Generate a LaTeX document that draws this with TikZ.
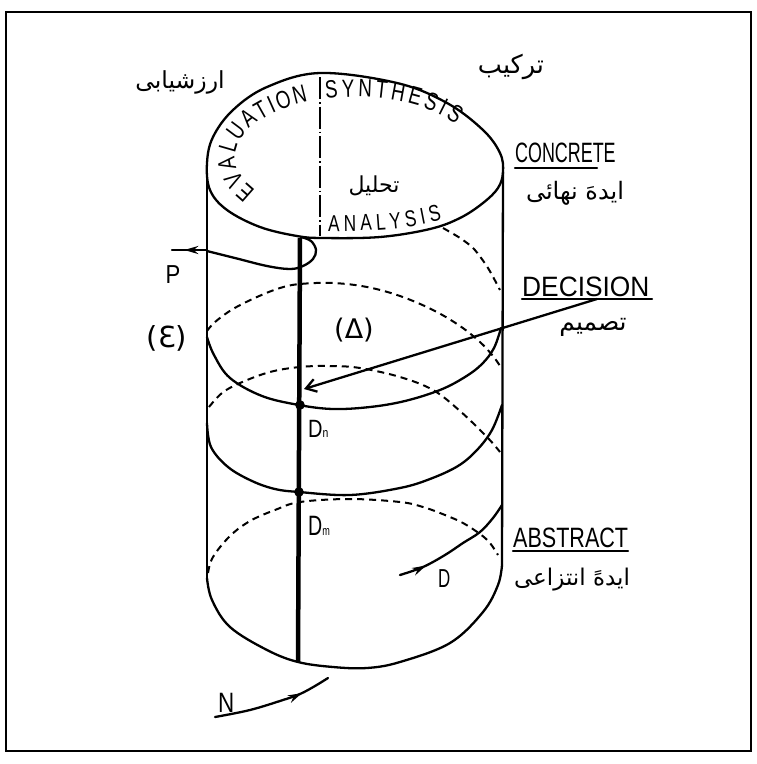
\documentclass[tikz,border=0pt]{standalone}
\usepackage{fontspec}
\setmainfont{Liberation Sans}
\newfontfamily\hand[FakeStretch=0.75]{Liberation Sans}
\newfontfamily\arabicfont[Script=Arabic]{DejaVu Sans}
\newfontfamily\dejavu{DejaVu Sans}
\TeXXeTstate=1
\usetikzlibrary{arrows.meta,decorations.markings,decorations.text}
\begin{document}
\begin{tikzpicture}[x=1pt,y=1pt,
  edge/.style={line width=2.3pt, line cap=round, line join=round},
  hidden/.style={line width=2pt, dash pattern=on 7pt off 5pt},
  lat/.style={font=\fontsize{28}{28}\selectfont, inner sep=0pt},
  ar/.style={font=\arabicfont\fontsize{24}{28}\selectfont, inner sep=0pt},
  flow mark/.style={postaction={decorate, decoration={markings,
     mark=at position #1 with {\arrow{Stealth[length=14pt,width=8pt]}}}}}
]
\useasboundingbox (0,0) rectangle (756,-764);
\fill[white] (0,0) rectangle (756,-764);
\draw[line width=2pt] (6,-12) rectangle (751,-751);

% top ellipse
\draw[edge] plot[smooth cycle, tension=0.6] coordinates {(320,-73) (397,-83) (447,-103) (483,-130) (500,-153) (503,-172) (498,-188) (483,-203) (460,-218) (430,-229) (380,-237) (323,-238) (297,-236) (260,-227) (227,-210) (210,-190) (207,-163) (213,-137) (233,-110) (267,-87)};
% sides
\draw[edge] (207,-163) -- (207,-578);
\draw[edge] (503,-172) -- (502,-565);
% bottom front
\draw[edge] plot[smooth, tension=0.6] coordinates {(207,-578) (212,-600) (230,-627) (267,-650) (298,-662) (333,-667) (367,-668) (400,-662) (450,-643) (483,-612) (498,-585) (502,-565)};
% thick front line
\coordinate (topfront) at (300,-238);
\coordinate (botfront) at (298,-662);
\draw[line width=4.5pt] (topfront) -- (botfront);
% dash-dot divider
\draw[line width=1.8pt, dash pattern=on 22pt off 3pt on 1.5pt off 3pt] (320,-77) -- (320,-236);

% P curve with loop
\draw[edge] plot[smooth, tension=0.6] coordinates {(207,-251) (235,-258) (267,-266) (290,-269) (303,-266) (313,-259) (316,-250) (311,-241) (301,-237)};
\coordinate (pin) at (207,-250);
\coordinate (pout) at (172,-250);
\draw[edge, flow mark=0.65] (pin) -- (pout);

% dashed (a)
\draw[hidden] plot[smooth] coordinates {(443,-228) (460,-238) (474,-249) (488,-268) (500,-290)};
% level 2
\draw[edge] plot[smooth, tension=0.6] coordinates {(207,-337) (214,-355) (230,-378) (262,-396) (299,-405) (333,-409) (370,-407) (405,-401) (440,-390) (465,-377) (482,-364) (494,-348) (501,-328)};
\draw[hidden] plot[smooth, tension=0.6] coordinates {(207,-331) (215,-322) (233,-309) (257,-297) (280,-288) (300,-284) (333,-283) (367,-287) (400,-296) (433,-310) (460,-326) (480,-342) (493,-356) (500,-366)};
% level 3
\draw[edge] plot[smooth, tension=0.6] coordinates {(207,-423) (211,-447) (228,-467) (252,-481) (275,-489) (299,-492) (350,-495) (400,-488) (430,-479) (458,-466) (477,-450) (492,-430) (502,-405)};
\draw[hidden] plot[smooth, tension=0.6] coordinates {(209,-407) (222,-393) (240,-383) (270,-372) (300,-367) (330,-366) (360,-368) (400,-377) (433,-390) (460,-411) (487,-437) (500,-452)};
% bottom back
\draw[hidden] plot[smooth, tension=0.6] coordinates {(208,-573) (213,-557) (230,-536) (250,-521) (275,-510) (300,-502) (350,-499) (400,-502) (423,-507) (445,-515) (463,-523) (480,-534) (490,-543) (498,-555)};

% D curve
\draw[edge, flow mark=0.22] plot[smooth, tension=0.6] coordinates {(400,-575) (423,-567) (445,-555) (463,-543) (480,-532) (493,-518) (502,-505)};
% N curve
\draw[edge, flow mark=0.75] plot[smooth, tension=0.6] coordinates {(215,-717) (250,-710) (283,-700) (300,-694) (315,-686) (328,-678)};

% decision points
\coordinate (Dn) at (300,-405);
\coordinate (Dm) at (299,-492);
\fill (Dn) circle (4.8);
\fill (Dm) circle (4.8);

% texts on top ellipse
\path[decorate, decoration={text along path, text align={fit to path},
  text={|\hand\fontsize{25}{25}\selectfont|EVALUATION}}]
  ([shift={(214:120pt and 60pt)}]355,-157) arc[start angle=214, end angle=113, x radius=120pt, y radius=60pt];
\path[decorate, decoration={text along path, text align={fit to path},
  text={|\hand\fontsize{25}{25}\selectfont|SYNTHESIS}}]
  ([shift={(104:120pt and 60pt)}]355,-157) arc[start angle=104, end angle=33, x radius=120pt, y radius=60pt];
\path[decorate, decoration={text along path, text align={fit to path},
  text={|\hand\fontsize{23}{23}\selectfont|ANALYSIS}}]
  (328,-231) .. controls (370,-232) and (410,-229) .. (442,-220);

% labels
\node[lat, xscale=0.64, anchor=base west] (concrete) at (515,-162) {CONCRETE};
\draw[edge] (515,-168) -- (597,-168);
\node[lat, xscale=0.94, anchor=base west] (decision) at (522,-296) {DECISION};
\draw[edge] (522,-299) -- (652,-299);
\node[lat, xscale=0.77, anchor=base west] (abstract) at (513,-547) {ABSTRACT};
\draw[edge] (513,-551) -- (628,-551);

\coordinate (decA) at (597,-299);
\coordinate (decB) at (304,-389);
\draw[edge, -{Straight Barb[length=10pt,width=13pt]}] (decA) -- (decB);

\node[ar, font=\arabicfont\fontsize{23.5}{28}\selectfont] (arz) at (180,-82) {\beginR ارزشیابی\endR};
\node[ar, font=\arabicfont\fontsize{25.5}{30}\selectfont] (tark) at (511,-67) {\beginR ترکیب\endR};
\node[ar, font=\arabicfont\fontsize{22}{26}\selectfont] (tahl) at (374,-186) {\beginR تحلیل\endR};
\node[ar] (nahai) at (575,-193) {\beginR ایدهَ نهائی\endR};
\node[ar, font=\arabicfont\fontsize{25}{28}\selectfont] (tasm) at (593,-327) {\beginR تصمیم\endR};
\node[ar, font=\arabicfont\fontsize{23}{28}\selectfont] (entz) at (572,-580) {\beginR ایدهً انتزاعی\endR};

\node[lat, xscale=0.85, font=\fontsize{26}{26}\selectfont] (P) at (173,-275) {P};
\node[inner sep=0pt, font=\dejavu\fontsize{29}{32}\selectfont] (eps) at (167,-338) {(Ɛ)};
\node[inner sep=0pt, font=\dejavu\fontsize{27}{30}\selectfont] (delta) at (354,-330) {(Δ)};
\node[inner sep=0pt, anchor=base west, font=\fontsize{25}{25}\selectfont, xscale=0.8] (dn) at (308,-437) {D{\fontsize{13}{13}\selectfont n}};
\node[inner sep=0pt, anchor=base west, font=\fontsize{28}{28}\selectfont, xscale=0.7] (dm) at (308,-535) {D{\fontsize{13}{13}\selectfont m}};
\node[inner sep=0pt, anchor=base west, font=\fontsize{26}{26}\selectfont, xscale=0.65] (dlab) at (438,-587) {D};
\node[inner sep=0pt, anchor=base west, font=\fontsize{28}{28}\selectfont, xscale=0.8] (nlab) at (218,-712) {N};
\end{tikzpicture}
\end{document}
